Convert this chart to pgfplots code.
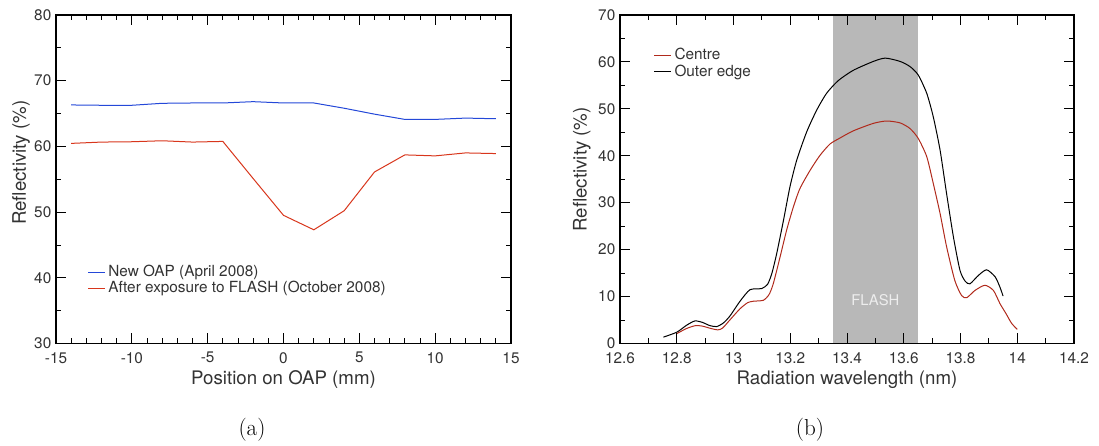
\documentclass[border=0pt]{standalone}
\usepackage{pgfplots}
\pgfplotsset{compat=1.18}
\usepackage{fontspec}
\newfontfamily\hv{TeX Gyre Heros}
\definecolor{txt}{HTML}{333333}
\definecolor{bluel}{HTML}{2448D8}
\definecolor{redl}{HTML}{D8361C}
\definecolor{redr}{HTML}{B02A1C}
\definecolor{band}{HTML}{B8B8B8}
\newcommand{\labfont}{\hv\fontsize{14}{16}\selectfont}
\pgfplotsset{
  myax/.style={
    scale only axis, anchor=south west,
    axis line style={line width=0.9pt, black},
    tick align=inside,
    major tick length=7.5pt, minor tick length=3.75pt,
    every tick/.style={line width=0.6pt, black},
    tick label style={font=\hv\fontsize{11.5}{13}\selectfont, text=txt},
    xticklabel style={yshift=-3pt},
    /pgf/number format/assume math mode=true,
    legend style={draw=none, fill=none, font=\hv\fontsize{11.5}{13}\selectfont, text=txt, row sep=-2pt},
    legend cell align=left,
    legend image code/.code={\draw[##1] (0cm,0cm) -- (0.45cm,0cm);},
  }
}
\begin{document}
\begin{tikzpicture}
\useasboundingbox (0,0) rectangle (824.25pt,334.5pt);
\begin{axis}[myax,
  at={(42pt,76.9pt)}, width=341.25pt, height=246.4pt,
  xmin=-15, xmax=15, ymin=30, ymax=80,
  xtick={-15,-10,...,15}, minor x tick num=4,
  ytick={30,40,...,80}, minor y tick num=1,
  xlabel={Position on OAP (mm)}, ylabel={Reflectivity (\%)},
  xlabel style={at={(axis description cs:0.5,-0.111)}, anchor=center, font=\labfont, text=txt},
  ylabel style={at={(axis description cs:-0.077,0.55)}, anchor=center, font=\labfont, text=txt},
  legend style={at={(axis description cs:0.06,0.255)}, anchor=north west},
]
\addplot[bluel, line width=0.75pt] coordinates {
(-14,66.3) (-12,66.25) (-10,66.25) (-8,66.55) (-6,66.6) (-4,66.6) (-2,66.8) (0,66.6) (2,66.6) (4,65.8) (6,64.9) (8,64.1) (10,64.1) (12,64.3) (14,64.2)};
\addlegendentry{New OAP (April 2008)}
\addplot[redl, line width=0.75pt] coordinates {
(-14,60.45) (-12,60.65) (-10,60.7) (-8,60.85) (-6,60.65) (-4,60.75) (-2,55.1) (0,49.5) (2,47.3) (4,50.2) (6,56.1) (8,58.7) (10,58.55) (12,59.0) (14,58.9)};
\addlegendentry{After exposure to FLASH (October 2008)}
\end{axis}
\begin{axis}[myax, axis on top,
  at={(465pt,76.9pt)}, width=340.5pt, height=246.4pt,
  xmin=12.6, xmax=14.2, ymin=0, ymax=70,
  xtick={12.6,12.8,13,13.2,13.4,13.6,13.8,14,14.2},
  xticklabels={12.6,12.8,13,13.2,13.4,13.6,13.8,14,14.2},
  minor x tick num=1,
  ytick={0,10,...,70}, minor y tick num=1,
  xlabel={Radiation wavelength (nm)}, ylabel={Reflectivity (\%)},
  xlabel style={at={(axis description cs:0.5,-0.111)}, anchor=center, font=\labfont, text=txt},
  ylabel style={at={(axis description cs:-0.084,0.53)}, anchor=center, font=\labfont, text=txt},
  legend style={at={(axis description cs:0.065,0.915)}, anchor=north west},
]
\addplot[fill=band, draw=none, forget plot] coordinates {(13.35,70) (13.65,70)} \closedcycle;
\node[font=\hv\fontsize{11.1}{13}\selectfont, text=white!93!black] at (axis cs:13.5,9.2) {FLASH};
\addplot[redr, line width=0.75pt, smooth, tension=0.4] coordinates {
(12.8,2.1) (12.835,3.2) (12.866,3.8) (12.89,3.7) (12.92,3.2) (12.945,2.9) (12.962,3.3) (12.99,5.2) (13.023,7.4) (13.05,8.7) (13.07,9.0) (13.105,9.2) (13.125,10.4) (13.14,12.7) (13.164,18.4) (13.187,24.1) (13.211,29.1) (13.234,33.0) (13.27,36.9) (13.305,40.1) (13.34,42.5) (13.373,43.7) (13.422,45.3) (13.493,46.9) (13.54,47.4) (13.587,47.0) (13.622,45.8) (13.651,43.7) (13.681,39.8) (13.704,34.1) (13.728,27.7) (13.751,20.6) (13.78,13.4) (13.804,10.2) (13.822,9.75) (13.851,11.3) (13.886,12.4) (13.916,11.3) (13.939,8.5) (13.96,6.4) (13.98,4.3) (14.0,3.0)};
\addlegendentry{Centre}
\addplot[black, line width=0.75pt, smooth, tension=0.4] coordinates {
(12.753,1.35) (12.8,2.4) (12.835,3.9) (12.864,4.8) (12.89,4.5) (12.917,3.8) (12.941,3.6) (12.965,4.4) (12.988,5.9) (13.023,9.0) (13.058,11.45) (13.099,11.7) (13.12,12.6) (13.135,14.9) (13.152,19.1) (13.176,26.2) (13.199,33.4) (13.223,39.1) (13.258,45.1) (13.293,49.7) (13.328,53.3) (13.369,56.0) (13.422,58.2) (13.493,60.1) (13.535,60.8) (13.587,60.1) (13.622,59.0) (13.651,57.2) (13.681,53.3) (13.704,48.3) (13.728,41.2) (13.751,31.9) (13.775,22.7) (13.798,15.6) (13.816,13.3) (13.833,12.7) (13.863,14.5) (13.892,15.7) (13.922,14.2) (13.939,12.0) (13.95,10.1)};
\addlegendentry{Outer edge}
\end{axis}
\node[font=\fontsize{17.3}{20}\selectfont] at (189pt,12pt) {(a)};
\node[font=\fontsize{17.3}{20}\selectfont] at (607.5pt,12pt) {(b)};
\end{tikzpicture}
\end{document}
